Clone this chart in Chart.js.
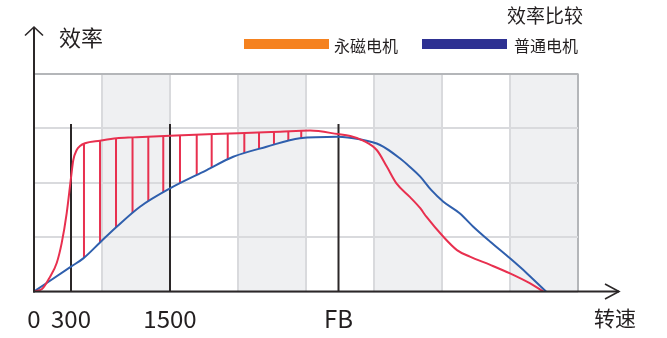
<!DOCTYPE html>
<html><head><meta charset="utf-8">
<script src="https://cdn.jsdelivr.net/npm/chart.js@4/dist/chart.umd.min.js"></script>
<style>html,body{margin:0;padding:0;background:#fff;overflow:hidden}canvas{display:block}</style>
</head><body>
<canvas id="c" width="667" height="338"></canvas>
<script>
// ---- data ----
const seriesNames = ['永磁电机', '普通电机'];
const pmX  = [0, 0.118, 0.235, 0.334, 0.407, 0.481, 0.544, 0.578, 0.628, 0.676, 0.75, 0.971, 1.216, 1.46, 2.0, 3.0, 3.62, 4.06, 4.47, 4.65, 4.84, 5.04, 5.19, 5.33, 5.53, 5.68, 5.77, 6.02, 6.22, 6.41, 6.71, 7.0, 7.29, 7.49];
const pmY  = [0, 1.1, 6.7, 13.1, 22.2, 36.0, 52.1, 60.3, 64.9, 66.7, 68.0, 69.2, 70.3, 70.7, 71.5, 72.6, 73.3, 73.8, 72.2, 71.3, 69.2, 64.9, 57.2, 49.6, 43.3, 38.2, 34.3, 25.1, 19.0, 16.0, 12.2, 8.3, 3.8, 0];
const stdX = [0, 0.544, 0.725, 0.971, 1.216, 1.559, 2.0, 2.54, 2.93, 3.42, 3.91, 4.47, 4.79, 5.09, 5.38, 5.53, 5.68, 5.84, 6.02, 6.26, 6.46, 6.71, 7.0, 7.25, 7.53];
const stdY = [0, 11.4, 15.2, 22.5, 29.7, 38.9, 47.3, 55.7, 61.8, 66.4, 70.3, 71.0, 69.8, 67.2, 61.1, 57.1, 52.7, 46.6, 41.2, 35.9, 29.7, 22.8, 15.2, 8.3, 0];
const tickPositions = [0, 0.544, 2, 4.478];
const tickLabels = ['0', '300', '1500', 'FB'];
const markerPositions = [0.544, 2, 4.478];
const markerTop = 76.8;
const hatchPositions = [0.735, 0.971, 1.206, 1.449, 1.681, 1.901, 2.147, 2.393, 2.613, 2.849, 3.093, 3.309, 3.529, 3.74, 3.93];
const gridColumns = [0, 1, 2, 3, 4, 5, 6, 7, 8];
const grayColumns = [[1, 2], [3, 4], [5, 6], [7, 8]];
const chartTitle = '效率比较';
const yTitle = '效率';
const xTitle = '转速';

// ---- styles ----
const FONT = "'Noto Sans CJK SC','Noto Sans',sans-serif";
const TEXT = '#231f20';
const RED = '#e8304f', BLUE = '#2f5fad';
const LEGEND_COLORS = ['#f5821f', '#2e3192'];
const GRID = '#d9dadd', BORDER = '#b4b6b9', BAND = '#eff0f2', AXIS = '#2b2728';

const pts = (xs, ys) => xs.map((v, i) => ({x: v, y: ys[i]}));
const markerData = markerPositions.flatMap(v => [{x: v, y: 0}, {x: v, y: markerTop}, {x: v, y: null}]);
const allTicks = Array.from(new Set([...gridColumns, ...tickPositions])).sort((a, b) => a - b);
const isGrid = v => gridColumns.includes(v);

const decor = {
  id: 'decor',
  beforeDraw(chart) {
    const {ctx, chartArea: a, scales: {x}} = chart;
    ctx.save();
    ctx.fillStyle = BAND;
    grayColumns.forEach(([s, e]) => {
      const x1 = x.getPixelForValue(s), x2 = x.getPixelForValue(e);
      ctx.fillRect(x1, a.top, x2 - x1, a.bottom - a.top);
    });
    ctx.restore();
  },
  beforeDatasetsDraw(chart) {
    const {ctx, chartArea: a, scales: {x}} = chart;
    const red = chart.getDatasetMeta(0).dataset, blue = chart.getDatasetMeta(1).dataset;
    ctx.save();
    ctx.beginPath(); red.path(ctx);
    let p = red.points; ctx.lineTo(p[p.length - 1].x, a.bottom); ctx.lineTo(p[0].x, a.bottom); ctx.closePath(); ctx.clip();
    ctx.beginPath(); blue.path(ctx);
    p = blue.points; ctx.lineTo(p[p.length - 1].x, a.top); ctx.lineTo(p[0].x, a.top); ctx.closePath(); ctx.clip();
    ctx.strokeStyle = RED; ctx.lineWidth = 2;
    hatchPositions.forEach(v => {
      const px = x.getPixelForValue(v);
      ctx.beginPath(); ctx.moveTo(px, a.top); ctx.lineTo(px, a.bottom); ctx.stroke();
    });
    ctx.restore();
  },
  afterDraw(chart) {
    const {ctx, chartArea: a} = chart;
    ctx.save();
    ctx.strokeStyle = AXIS; ctx.lineWidth = 2; ctx.lineCap = 'butt';
    // y axis with arrow
    ctx.beginPath(); ctx.moveTo(a.left, a.bottom + 1); ctx.lineTo(a.left, a.top - 46); ctx.stroke();
    ctx.lineWidth = 1.6;
    ctx.beginPath(); ctx.moveTo(a.left - 9, a.top - 38); ctx.lineTo(a.left, a.top - 46.5); ctx.lineTo(a.left + 9, a.top - 38); ctx.stroke();
    // x axis with arrow
    ctx.lineWidth = 2;
    ctx.beginPath(); ctx.moveTo(a.left - 1, a.bottom); ctx.lineTo(a.right + 41, a.bottom); ctx.stroke();
    ctx.lineWidth = 1.6;
    ctx.beginPath(); ctx.moveTo(a.right + 27, a.bottom - 7.5); ctx.lineTo(a.right + 41, a.bottom); ctx.lineTo(a.right + 27, a.bottom + 7.5); ctx.stroke();
    // texts
    ctx.fillStyle = TEXT; ctx.textBaseline = 'middle';
    ctx.textAlign = 'left';
    ctx.font = '22px ' + FONT; ctx.fillText(yTitle, 59, 38);
    ctx.font = '21px ' + FONT; ctx.fillText(xTitle, 594, 318);
    ctx.textAlign = 'right';
    ctx.font = '19px ' + FONT; ctx.fillText(chartTitle, 583, 16);
    // legend
    ctx.textAlign = 'left'; ctx.font = '16px ' + FONT;
    const boxX = [244, 422], textX = [334, 514];
    seriesNames.forEach((n, i) => {
      ctx.fillStyle = LEGEND_COLORS[i]; ctx.fillRect(boxX[i], 39, 85, 10);
      ctx.fillStyle = TEXT; ctx.fillText(n, textX[i], 45.5);
    });
    ctx.restore();
  }
};

new Chart(document.getElementById('c'), {
  type: 'line',
  data: {
    datasets: [
      {label: seriesNames[0], data: pts(pmX, pmY), borderColor: RED, borderWidth: 2, cubicInterpolationMode: 'monotone', pointRadius: 0, fill: false},
      {label: seriesNames[1], data: pts(stdX, stdY), borderColor: BLUE, borderWidth: 2, cubicInterpolationMode: 'monotone', pointRadius: 0, fill: false},
      {label: 'markers', data: markerData, borderColor: AXIS, borderWidth: 2, pointRadius: 0, spanGaps: false, tension: 0}
    ]
  },
  options: {
    responsive: false, animation: false, devicePixelRatio: 1,
    layout: {padding: {left: 34, right: 89, top: 73.5, bottom: 0}},
    plugins: {legend: {display: false}, tooltip: {enabled: false}, title: {display: false}},
    scales: {
      x: {
        type: 'linear', min: 0, max: 8,
        afterBuildTicks: s => { s.ticks = allTicks.map(v => ({value: v})); },
        afterFit: s => { s.height = 46.5; },
        border: {display: false},
        grid: {
          drawTicks: false, lineWidth: 2,
          color: c => { const v = c.tick && c.tick.value; if (!isGrid(v)) return 'rgba(0,0,0,0)'; return v === 8 ? BORDER : GRID; }
        },
        ticks: {
          autoSkip: false, maxRotation: 0, padding: 13, color: TEXT,
          font: {family: FONT, size: 24},
          callback: v => { const i = tickPositions.indexOf(v); return i >= 0 ? tickLabels[i] : ''; }
        }
      },
      y: {
        type: 'linear', min: 0, max: 100,
        afterFit: s => { s.width = 0; },
        border: {display: false},
        grid: {drawTicks: false, lineWidth: 2, color: c => (c.tick && c.tick.value === 100) ? BORDER : GRID},
        ticks: {display: false, stepSize: 25}
      }
    }
  },
  plugins: [decor]
});
</script>
</body></html>
